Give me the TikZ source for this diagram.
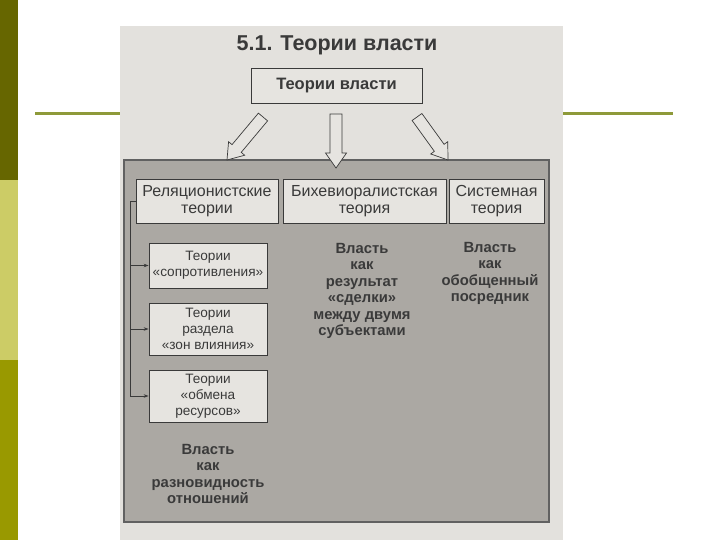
\documentclass[tikz,border=0pt]{standalone}
\usepackage{fontspec}
\setmainfont{Liberation Sans}
\usetikzlibrary{calc,arrows.meta}

\definecolor{barDark}{HTML}{666600}
\definecolor{barLight}{HTML}{CCCC66}
\definecolor{barMid}{HTML}{999900}
\definecolor{rule}{HTML}{8E9A3A}
\definecolor{scan}{HTML}{E3E1DD}
\definecolor{hatch}{HTML}{ABA8A3}
\definecolor{paper}{HTML}{E6E4E0}
\definecolor{ink}{HTML}{3A3A3A}

\begin{document}
\begin{tikzpicture}[x=1pt,y=-1pt,
  box/.style={draw=ink, fill=paper, line width=.8pt, inner sep=0pt, text=ink, align=center},
  head/.style={box, font=\fontsize{16}{17.5}\selectfont, minimum height=44pt},
  sub/.style={box, font=\fontsize{13.6}{16}\selectfont, minimum width=118pt},
  claim/.style={text=ink, align=center, font=\bfseries\fontsize{14.8}{16.4}\selectfont},
  feed/.style={draw=ink, line width=.6pt, -{Stealth[length=5pt,width=3.5pt]}},
  hollow/.style={draw=ink, fill=paper, line width=.7pt, line join=miter,
    to path={($(\tikztostart)!6pt!90:(\tikztotarget)$)
      -- ($(\tikztotarget)!15pt!(\tikztostart)!6pt!90:(\tikztotarget)$)
      -- ($(\tikztotarget)!15pt!(\tikztostart)!10.5pt!90:(\tikztotarget)$)
      -- (\tikztotarget)
      -- ($(\tikztotarget)!15pt!(\tikztostart)!10.5pt!-90:(\tikztotarget)$)
      -- ($(\tikztotarget)!15pt!(\tikztostart)!6pt!-90:(\tikztotarget)$)
      -- ($(\tikztostart)!6pt!-90:(\tikztotarget)$) -- cycle}}]
\useasboundingbox (0,0) rectangle (720,540);
% slide
\fill[white] (0,0) rectangle (720,540);
\fill[barDark] (0,0) rectangle (18,180);
\fill[barLight] (0,180) rectangle (18,360);
\fill[barMid] (0,360) rectangle (18,540);
\draw[rule, line width=3pt] (35,114) -- (673,114);
% scanned page
\fill[scan] (120,26) rectangle (563,540);
\node[font=\bfseries\fontsize{21.5}{24}\selectfont, text=ink] (title) at (337,45) {5.1. Теории власти};
\node[box, font=\bfseries\fontsize{16.5}{18}\selectfont, minimum width=171pt, minimum height=35pt] (top) at (336.5,85.5) {Теории власти};
\node[draw=ink!80, fill=hatch, line width=1.6pt, minimum width=425pt, minimum height=362pt] (field) at (336.5,341) {};
% arrows
\coordinate (fromL) at (263,117);
\coordinate (fromM) at (336,114);
\coordinate (fromR) at (417,117);
\coordinate (toL) at (227,160);
\coordinate (toM) at (336,168);
\coordinate (toR) at (448,160);
\draw[hollow] (fromL) to (toL);
\draw[hollow] (fromM) to (toM);
\draw[hollow] (fromR) to (toR);
% theories
\node[head, minimum width=142pt] (rel) at (207,201) {Реляционистские\\теории};
\node[head, minimum width=163pt] (beh) at (364.5,201) {Бихевиоралистская\\теория};
\node[head, minimum width=95pt] (sys) at (496.5,201) {Системная\\теория};
\node[sub, minimum height=45pt] (resist) at (208,265.5) {Теории\\«сопротивления»};
\node[sub, minimum height=52pt] (zones) at (208,329) {Теории\\раздела\\«зон влияния»};
\node[sub, minimum height=52pt] (exch) at (208,396) {Теории\\«обмена\\ресурсов»};
\draw[feed] (rel.west) -- ++(-5,0) |- (resist.west);
\draw[feed] (rel.west) -- ++(-5,0) |- (zones.west);
\draw[feed] (rel.west) -- ++(-5,0) |- (exch.west);
% power as ...
\node[claim] (behclaim) at (362,291) {Власть\\как\\результат\\«сделки»\\между двумя\\субъектами};
\node[claim] (sysclaim) at (490,273.5) {Власть\\как\\обобщенный\\посредник};
\node[claim] (relclaim) at (208,474) {Власть\\как\\разновидность\\отношений};
\end{tikzpicture}
\end{document}
